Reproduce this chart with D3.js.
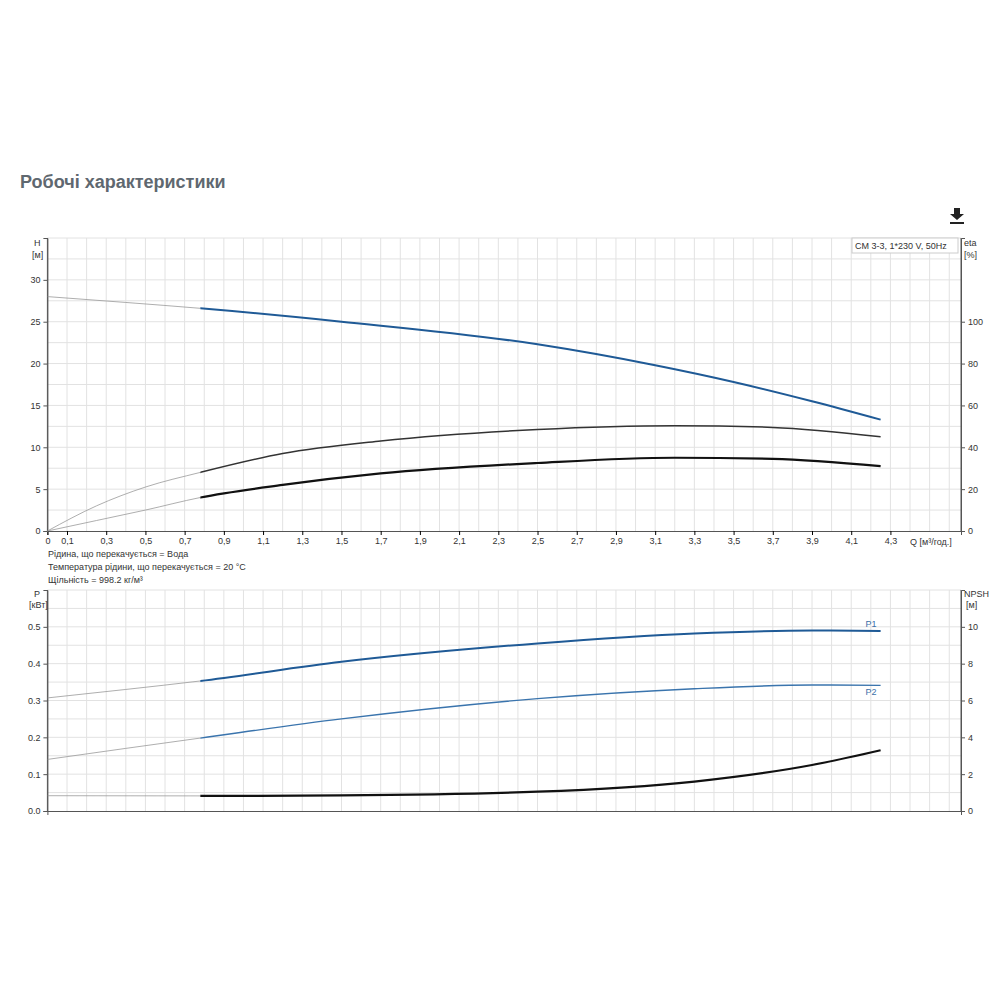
<!DOCTYPE html>
<html><head><meta charset="utf-8">
<script src="https://cdn.jsdelivr.net/npm/d3@7"></script>
<style>body{margin:0;background:#fff;font-family:"Liberation Sans",Arial,sans-serif}</style>
</head><body>
<svg id="c" width="1000" height="1000"></svg>
<script>
const qH = [0, 0.4, 0.78, 1.5, 2.5, 3.1, 3.5, 3.9, 4.25];
const head = [28, 27.3, 26.6, 25, 22.3, 19.8, 17.8, 15.5, 13.3];
const qE = [0, 0.25, 0.5, 0.78, 1.2, 1.7, 2.5, 3.2, 3.7, 4.25];
const eta1 = [0, 12, 21, 28, 37, 43, 48.5, 50.3, 49.5, 45];
const eta2 = [0, 5, 10, 16, 22, 27.5, 32.5, 35, 34.5, 31];
const qP = [0, 0.4, 0.78, 1.5, 2.5, 3.3, 3.9, 4.25];
const p1 = [0.307, 0.33, 0.353, 0.405, 0.455, 0.482, 0.49, 0.489];
const p2 = [0.14, 0.17, 0.198, 0.25, 0.305, 0.332, 0.342, 0.341];
const qN = [0, 0.78, 1.5, 2.5, 3.3, 3.9, 4.25];
const npsh = [0.83, 0.82, 0.85, 1.05, 1.6, 2.5, 3.3];
const qTicks = d3.range(0.1, 4.4, 0.2);
const split = 0.78;

const svg = d3.select('#c');
const x = d3.scaleLinear().domain([0, 4.66]).range([47.4, 961]);
const yH = d3.scaleLinear().domain([0, 35]).range([531, 238]);
const yE = d3.scaleLinear().domain([0, 140]).range([531, 238]);
const yP = d3.scaleLinear().domain([0, 0.6]).range([811, 590]);
const yN = d3.scaleLinear().domain([0, 12]).range([811, 590]);

svg.append('text').attr('x', 20).attr('y', 188).attr('font-size', 18).attr('font-weight', 'bold')
  .attr('fill', '#5f6870').text('Робочі характеристики');
// download icon
svg.append('path').attr('d', 'M954,208h6v6h4l-7,6l-7,-6h4z').attr('fill', '#222');
svg.append('rect').attr('x', 950).attr('y', 222).attr('width', 14).attr('height', 2).attr('fill', '#222');

function panel(yL, yR, hStep, top) {
  const g = svg.append('g');
  const [y0, y1] = yL.range();
  d3.range(0.1, 4.66, 0.1).forEach(q => g.append('line').attr('x1', x(q)).attr('x2', x(q))
    .attr('y1', y0).attr('y2', y1).attr('stroke', '#e2e2e2'));
  d3.range(hStep, yL.domain()[1] + 1e-9, hStep).forEach(v => g.append('line').attr('x1', x(0)).attr('x2', x(4.66))
    .attr('y1', yL(v)).attr('y2', yL(v)).attr('stroke', '#e2e2e2'));
  g.append('line').attr('x1', x(0)).attr('x2', x(0)).attr('y1', y0).attr('y2', y1).attr('stroke', '#555');
  g.append('line').attr('x1', x(4.66)).attr('x2', x(4.66)).attr('y1', y0).attr('y2', y1).attr('stroke', '#555');
  const xa = g.append('g').attr('transform', `translate(0,${y0})`)
    .call(d3.axisBottom(x).tickValues(top ? [0, ...qTicks] : []).tickSize(4).tickFormat(d => d === 0 ? '0' : d3.format('.1f')(d).replace('.', ',')));
  xa.selectAll('path').attr('stroke', '#555');
  return g;
}
function styleAxis(a) {
  a.selectAll('path').attr('stroke', '#555');
  a.selectAll('line').attr('stroke', '#555');
  a.selectAll('text').attr('fill', '#333').attr('font-size', 9);
}
const gt = panel(yH, yE, 2.5, true);
gt.selectAll('text').attr('font-size', 9).attr('fill', '#333');
styleAxis(gt.append('g').attr('transform', `translate(${x(0)},0)`).call(d3.axisLeft(yH).tickValues([0, 5, 10, 15, 20, 25, 30]).tickSize(4)));
styleAxis(gt.append('g').attr('transform', `translate(${x(4.66)},0)`).call(d3.axisRight(yE).tickValues([0, 20, 40, 60, 80, 100]).tickSize(4)));
const gb = panel(yP, yN, 0.05, false);
styleAxis(gb.append('g').attr('transform', `translate(${x(0)},0)`).call(d3.axisLeft(yP).tickValues([0, 0.1, 0.2, 0.3, 0.4, 0.5]).tickSize(4).tickFormat(d3.format('.1f'))));
styleAxis(gb.append('g').attr('transform', `translate(${x(4.66)},0)`).call(d3.axisRight(yN).tickValues([0, 2, 4, 6, 8, 10]).tickSize(4)));

function lbl(t, xx, yy, anchor) {
  svg.append('text').attr('x', xx).attr('y', yy).attr('font-size', 9).attr('fill', '#333')
    .attr('text-anchor', anchor || 'start').text(t);
}
lbl('H', 34, 246); lbl('[м]', 32, 258);
lbl('eta', 964, 246); lbl('[%]', 964, 258);
lbl('P', 34, 597); lbl('[кВт]', 29, 608);
lbl('NPSH', 964, 597); lbl('[м]', 966, 608);
lbl('Q [м³/год.]', 910, 545);
lbl('Рідина, що перекачується = Вода', 48, 557);
lbl('Температура рідини, що перекачується = 20 °C', 48, 570);
lbl('Щільність = 998.2 кг/м³', 48, 583);
svg.append('rect').attr('x', 852).attr('y', 238).attr('width', 106).attr('height', 15).attr('fill', '#fff').attr('stroke', '#ccc');
lbl('CM 3-3, 1*230 V, 50Hz', 855, 249);

function curve(qs, vs, y, color, w) {
  const pts = qs.map((q, i) => [q, vs[i]]);
  const line = d3.line().x(d => x(d[0])).y(d => y(d[1])).curve(d3.curveMonotoneX);
  const clip = (lo, hi) => {
    // keep the same curve shape, clip by x range
    const id = 'c' + Math.random().toString(36).slice(2);
    svg.append('clipPath').attr('id', id).append('rect').attr('x', x(lo)).attr('y', 0)
      .attr('width', x(hi) - x(lo)).attr('height', 1000);
    return `url(#${id})`;
  };
  svg.append('path').attr('d', line(pts)).attr('fill', 'none').attr('stroke', '#999').attr('stroke-width', 0.8)
    .attr('clip-path', clip(0, split));
  svg.append('path').attr('d', line(pts)).attr('fill', 'none').attr('stroke', color).attr('stroke-width', w)
    .attr('clip-path', clip(split, 5));
}
curve(qH, head, yH, '#1f5a96', 2);
curve(qE, eta1, yE, '#333', 1.5);
curve(qE, eta2, yE, '#111', 2.2);
curve(qP, p1, yP, '#1f5a96', 2);
curve(qP, p2, yP, '#3a74ad', 1.4);
curve(qN, npsh, yN, '#111', 2.2);
svg.append('text').attr('x', x(4.25) - 4).attr('y', yP(0.489) - 4).attr('font-size', 9).attr('fill', '#3a6fa8').attr('text-anchor', 'end').text('P1');
svg.append('text').attr('x', x(4.25) - 4).attr('y', yP(0.341) + 10).attr('font-size', 9).attr('fill', '#3a6fa8').attr('text-anchor', 'end').text('P2');
</script>
</body></html>
